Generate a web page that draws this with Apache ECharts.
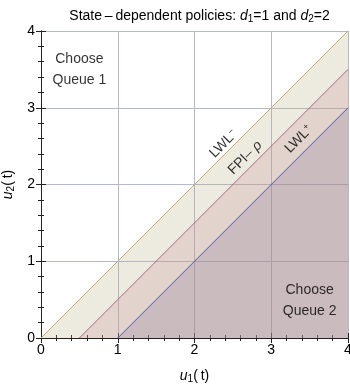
<!DOCTYPE html>
<html><head><meta charset="utf-8">
<script src="https://cdn.jsdelivr.net/npm/echarts@6/dist/echarts.min.js"></script>
<style>html,body{margin:0;padding:0;background:#fff}#c{width:350px;height:388px}</style>
</head><body><div id="c"></div>
<script>
// ---- data ----
const axisMin = 0, axisMax = 4;
const tickLabels = ['0','1','2','3','4'];
const lwlMinus = [[0,0],[4,4]];      // u2 = u1
const fpiRho   = [[0.5,0],[4,3.5]];  // u2 = u1 - 0.5
const lwlPlus  = [[1,0],[4,3]];      // u2 = u1 - 1
const lineLabelNames = ['LWL{sup|−}', 'FPI– {i|ρ}', 'LWL{sup|+}'];
const lineLabelPos = [[2.38,2.53],[2.66,2.35],[3.36,2.59]];
const regionNames = ['Choose\nQueue 1', 'Choose\nQueue 2'];
const regionPos = [[0.5,3.5],[3.5,0.49]];

const FONT = 'Liberation Sans';
const GRID = {left:41, top:31, width:307, height:307};
const chart = echarts.init(document.getElementById('c'), null, {renderer:'canvas'});

const frameLine = {show:true, lineStyle:{color:'#222', width:1}};
const tickStyle = {show:true, inside:true, length:5, lineStyle:{color:'#222', width:1}};
const minorStyle = {show:true, splitNumber:5, length:3, lineStyle:{color:'#222', width:1}};
const gridStyle = {show:true, lineStyle:{color:'#B3BACA', width:1}};
const labelFmt = v => tickLabels[Math.round(v)] ?? '';

function richSet(size){
  return {
    i:{fontStyle:'italic', fontFamily:FONT, fontSize:size, color:'#000', lineHeight:16},
    s:{fontFamily:FONT, fontSize:size-4, color:'#000', lineHeight:9, verticalAlign:'bottom'},
    n:{fontFamily:FONT, fontSize:size, color:'#000', lineHeight:16}
  };
}

function areaSeries(name, data, lineColor, fill){
  return {
    type:'line', name, data, showSymbol:false, symbol:'none',
    lineStyle:{color:lineColor, width:1}, itemStyle:{color:lineColor},
    areaStyle:{color:fill, opacity:1, origin:'start'}, silent:true, animation:false, z:2
  };
}

chart.setOption({
  animation:false,
  title:{
    text:'{n|State\u2009–\u2009dependent policies: }{i|d}{s|1}{n|=1 and }{i|d}{s|2}{n|=2}',
    left:GRID.left + GRID.width/2, textAlign:'center', top:3,
    textStyle:{fontFamily:FONT, fontSize:14, fontWeight:'normal', color:'#000', rich:richSet(14)}
  },
  grid:Object.assign({outerBoundsMode:'none', containLabel:false}, GRID),
  xAxis:[
    {type:'value', min:axisMin, max:axisMax, interval:1, position:'bottom',
     axisLine:frameLine, axisTick:tickStyle, minorTick:minorStyle, splitLine:gridStyle,
     axisLabel:{formatter:labelFmt, fontFamily:FONT, fontSize:14, color:'#000', margin:5},
     name:'{i|u}{s|1}{n|(\u2009t)}', nameLocation:'middle', nameGap:30,
     nameTextStyle:{rich:richSet(14)}},
    {type:'value', min:axisMin, max:axisMax, interval:1, position:'top',
     axisLine:frameLine, axisTick:tickStyle, minorTick:minorStyle, splitLine:{show:false},
     axisLabel:{show:false}}
  ],
  yAxis:[
    {type:'value', min:axisMin, max:axisMax, interval:1, position:'left',
     axisLine:frameLine, axisTick:tickStyle, minorTick:minorStyle, splitLine:gridStyle,
     axisLabel:{formatter:labelFmt, fontFamily:FONT, fontSize:14, color:'#000', margin:6},
     name:'{i|u}{s|2}{n|(\u2009t)}', nameLocation:'middle', nameGap:25, nameRotate:90,
     nameTextStyle:{rich:richSet(14)}},
    {type:'value', min:axisMin, max:axisMax, interval:1, position:'right',
     axisLine:frameLine, axisTick:tickStyle, minorTick:minorStyle, splitLine:{show:false},
     axisLabel:{show:false}}
  ],
  series:[
    areaSeries('LWL-', lwlMinus, '#C4AC66', 'rgba(183,171,127,0.25)'),
    areaSeries('FPI', fpiRho, '#B25F80', 'rgba(197,142,151,0.25)'),
    areaSeries('LWL+', lwlPlus, '#4A5CB8', 'rgba(131,115,149,0.25)'),
    {
      type:'scatter', symbolSize:0, silent:true, z:5,
      data: lineLabelPos.map((p,k)=>({value:p, name:lineLabelNames[k]})),
      label:{show:true, position:'inside', rotate:45, formatter:p=>p.name,
        fontFamily:FONT, fontSize:14, color:'#000', lineHeight:16,
        rich:{
          sup:{fontFamily:FONT, fontSize:9, color:'#000', lineHeight:9, verticalAlign:'top'},
          i:{fontStyle:'italic', fontFamily:FONT, fontSize:14, color:'#000', lineHeight:16}
        }}
    },
    {
      type:'scatter', symbolSize:0, silent:true, z:5,
      data: regionPos.map((p,k)=>({value:p, name:regionNames[k]})),
      label:{show:true, position:'inside', formatter:p=>p.name, align:'center',
        fontFamily:FONT, fontSize:14, color:'#000', lineHeight:21}
    }
  ]
});
</script></body></html>
